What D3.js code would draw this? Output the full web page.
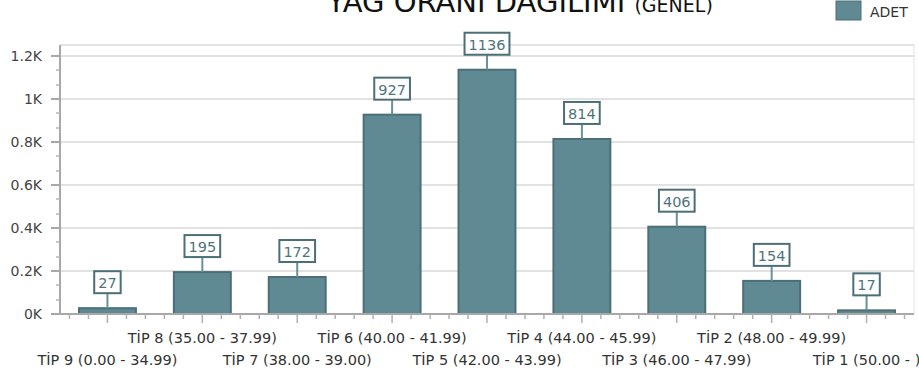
<!DOCTYPE html>
<html>
<head>
<meta charset="utf-8">
<script src="https://cdn.jsdelivr.net/npm/d3@7"></script>
<style>
  body { margin: 0; background: #fff; }
  svg { display: block; font-family: "DejaVu Sans", sans-serif; }
</style>
</head>
<body>
<svg width="919" height="376"></svg>
<script>
// veriler
const categories = [
    "TİP 9 (0.00 - 34.99)", "TİP 8 (35.00 - 37.99)", "TİP 7 (38.00 - 39.00)",
    "TİP 6 (40.00 - 41.99)", "TİP 5 (42.00 - 43.99)", "TİP 4 (44.00 - 45.99)",
    "TİP 3 (46.00 - 47.99)", "TİP 2 (48.00 - 49.99)", "TİP 1 (50.00 - )"
];
const adet = [27, 195, 172, 927, 1136, 814, 406, 154, 17];
const yTicks = [0, 200, 400, 600, 800, 1000, 1200];
const yTickLabels = ["0K", "0.2K", "0.4K", "0.6K", "0.8K", "1K", "1.2K"];

const barFill = "#5f8a93", barStroke = "#4c6f77";

const svg = d3.select("svg");
const m = { left: 60, right: 5, top: 45, bottom: 314 };

const x = d3.scaleBand().domain(categories).range([m.left, 919 - m.right]).paddingInner(0).paddingOuter(0);
const y = d3.scaleLinear().domain([0, 1251]).range([m.bottom, m.top]);

// ızgara
const grid = svg.append("g");
grid.append("line")
    .attr("x1", m.left).attr("x2", 919 - m.right)
    .attr("y1", m.top).attr("y2", m.top)
    .attr("stroke", "#e2e2e2").attr("stroke-width", 2);
grid.append("line")
    .attr("x1", 919 - m.right).attr("x2", 919 - m.right)
    .attr("y1", m.top).attr("y2", m.bottom)
    .attr("stroke", "#e2e2e2").attr("stroke-width", 1);
grid.selectAll("line.g").data(yTicks.slice(1)).enter().append("line")
    .attr("class", "g")
    .attr("x1", m.left).attr("x2", 919 - m.right)
    .attr("y1", d => y(d)).attr("y2", d => y(d))
    .attr("stroke", "#e2e2e2").attr("stroke-width", 2);

// çubuklar
const bw = x.bandwidth() * 0.6;
const cx = d => x(d) + x.bandwidth() / 2;
svg.append("g").selectAll("rect").data(categories).enter().append("rect")
    .attr("x", d => cx(d) - bw / 2)
    .attr("y", (d, i) => y(adet[i]))
    .attr("width", bw)
    .attr("height", (d, i) => m.bottom - y(adet[i]))
    .attr("fill", barFill)
    .attr("stroke", barStroke)
    .attr("stroke-width", 2);

// y ekseni
const ya = svg.append("g");
ya.append("line")
    .attr("x1", m.left).attr("x2", m.left)
    .attr("y1", m.top).attr("y2", m.bottom)
    .attr("stroke", "#a8a8a8").attr("stroke-width", 2);
const minor = d3.range(0, 1201, 200 / 3);
ya.selectAll("line.mi").data(minor).enter().append("line")
    .attr("x1", m.left - 4).attr("x2", m.left)
    .attr("y1", d => Math.round(y(d))).attr("y2", d => Math.round(y(d)))
    .attr("stroke", "#b5b5b5").attr("stroke-width", 1.5);
ya.selectAll("line.ma").data(yTicks).enter().append("line")
    .attr("x1", m.left - 9).attr("x2", m.left)
    .attr("y1", d => y(d)).attr("y2", d => y(d))
    .attr("stroke", "#a8a8a8").attr("stroke-width", 2);
ya.selectAll("text").data(yTicks).enter().append("text")
    .attr("x", 42).attr("y", d => y(d) + 5)
    .attr("text-anchor", "end")
    .attr("font-size", 14).attr("fill", "#444")
    .text((d, i) => yTickLabels[i]);

// x ekseni
const xa = svg.append("g");
xa.append("line")
    .attr("x1", m.left).attr("x2", 919 - m.right)
    .attr("y1", m.bottom).attr("y2", m.bottom)
    .attr("stroke", "#a8a8a8").attr("stroke-width", 2);
const step = x.bandwidth() / 5;
const xt = [];
categories.forEach(c => { for (let k = -2; k <= 2; k++) xt.push({ pos: cx(c) + k * step, major: k === 0 }); });
xa.selectAll("line.t").data(xt).enter().append("line")
    .attr("x1", d => d.pos).attr("x2", d => d.pos)
    .attr("y1", m.bottom).attr("y2", d => m.bottom + (d.major ? 9 : 5))
    .attr("stroke", "#b0b0b0").attr("stroke-width", 1.5);
xa.selectAll("text").data(categories).enter().append("text")
    .attr("x", d => cx(d))
    .attr("y", (d, i) => i % 2 === 0 ? 365 : 343)
    .attr("text-anchor", "middle")
    .attr("font-size", 14.5).attr("fill", "#333")
    .text(d => d);

// değer etiketleri
const lab = svg.append("g").selectAll("g").data(categories).enter().append("g");
lab.append("line")
    .attr("x1", d => cx(d)).attr("x2", d => cx(d))
    .attr("y1", (d, i) => y(adet[i])).attr("y2", (d, i) => y(adet[i]) - 15)
    .attr("stroke", "#6a9098").attr("stroke-width", 2);
lab.each(function (d, i) {
    const g = d3.select(this);
    const t = g.append("text")
        .attr("x", cx(d)).attr("y", y(adet[i]) - 20)
        .attr("text-anchor", "middle")
        .attr("font-size", 14.5).attr("fill", "#4f737b")
        .text(adet[i]);
    const w = t.node().getComputedTextLength() + 8;
    g.insert("rect", "text")
        .attr("x", cx(d) - w / 2).attr("y", y(adet[i]) - 37)
        .attr("width", w).attr("height", 22)
        .attr("fill", "#fff").attr("stroke", barStroke).attr("stroke-width", 2);
});

// başlık (üstte kesik, referanstaki gibi)
const title = svg.append("text").attr("x", 520).attr("y", 12).attr("text-anchor", "middle").attr("fill", "#111");
title.append("tspan").attr("font-size", 29).text("YAĞ ORANI DAĞILIMI ");
title.append("tspan").attr("font-size", 19).text("(GENEL)");

// lejant
svg.append("rect").attr("x", 836).attr("y", 1).attr("width", 25).attr("height", 19)
    .attr("fill", barFill).attr("stroke", barStroke).attr("stroke-width", 1);
svg.append("text").attr("x", 870).attr("y", 17).attr("font-size", 14).attr("fill", "#333").text("ADET");
</script>
</body>
</html>
